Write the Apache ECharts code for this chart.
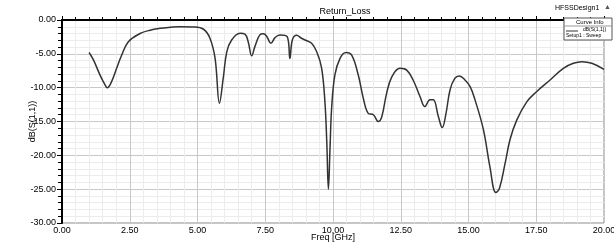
<!DOCTYPE html>
<html>
<head>
<meta charset="utf-8">
<script src="https://cdn.jsdelivr.net/npm/echarts@6/dist/echarts.min.js"></script>
<style>
  html, body { margin: 0; padding: 0; background: #fff; }
  #main { width: 614px; height: 245px; }
</style>
</head>
<body>
<div id="main"></div>
<script>
// Return_Loss, dB(S(1,1)) vs Freq [GHz]
const freq = [1.00, 1.16, 1.40, 1.59, 1.67, 1.83, 2.02, 2.20, 2.45, 2.88, 3.25, 3.62, 3.99, 4.35, 4.85,
  5.21, 5.46, 5.65, 5.81, 5.95, 6.08, 6.26, 6.57, 6.75, 6.87, 7.00, 7.12, 7.30, 7.43, 7.55, 7.71, 7.86,
  8.04, 8.31, 8.41, 8.50, 8.66, 8.84, 8.97, 9.21, 9.40, 9.58, 9.70, 9.77, 9.83, 9.89, 9.95, 10.07,
  10.26, 10.48, 10.69, 10.93, 11.12, 11.30, 11.49, 11.67, 11.80, 11.98, 12.17, 12.47, 12.72, 12.96,
  13.21, 13.39, 13.58, 13.70, 13.89, 14.03, 14.17, 14.32, 14.50, 14.66, 14.87, 15.06, 15.24, 15.55,
  15.79, 16.01, 16.14, 16.35, 16.53, 16.78, 17.15, 17.51, 18.01, 18.50, 18.87, 19.18, 19.55, 20.00];
const s11 = [-4.8, -5.9, -8.1, -9.6, -10.0, -9.1, -7.1, -5.2, -3.2, -2.0, -1.5, -1.23, -1.08, -0.99, -1.03,
  -1.33, -2.7, -5.7, -12.3, -8.6, -4.7, -2.95, -1.97, -2.1, -3.2, -5.3, -3.9, -2.2, -2.05, -2.4, -3.45, -2.6,
  -2.2, -2.46, -5.7, -2.95, -2.27, -2.7, -2.95, -3.45, -4.7, -7.1, -12.0, -18.0, -25.0, -19.0, -13.0, -8.1,
  -5.66, -4.8, -5.2, -8.1, -11.6, -13.8, -14.0, -15.0, -14.3, -10.8, -8.4, -7.14, -7.4, -8.9,
  -11.3, -12.8, -11.8, -11.8, -14.3, -15.9, -13.8, -10.3, -8.6, -8.27, -8.86, -9.85, -11.8, -16.2,
  -21.7, -25.5, -24.9, -21.2, -17.7, -14.8, -12.1, -10.6, -8.86, -7.14, -6.4, -6.16, -6.4, -7.3];

const curveName = 'dB(S(1,1))';
const setupName = 'Setup1 : Sweep';

const myChart = echarts.init(document.getElementById('main'));

const points = [];
for (let i = 0; i < freq.length; i++) {
  points.push([freq[i], s11[i]]);
}

const font = 'Liberation Sans, Arial, sans-serif';

const option = {
  backgroundColor: '#fff',
  animation: false,
  title: {
    text: 'Return_Loss',
    left: 340,
    top: 2,
    textAlign: 'center',
    textStyle: { fontFamily: font, fontSize: 9, fontWeight: 'normal', color: '#000' }
  },
  grid: {
    left: 62, right: 10, top: 20, bottom: 22,
    outerBoundsMode: 'none',
    containLabel: false,
    show: true,
    borderColor: '#888',
    borderWidth: 1
  },
  xAxis: {
    type: 'value',
    min: 0,
    max: 20,
    interval: 2.5,
    name: 'Freq [GHz]',
    nameLocation: 'middle',
    nameGap: 10,
    nameMoveOverlap: false,
    nameTextStyle: { fontFamily: font, fontSize: 9, color: '#000' },
    axisLine: { show: true, lineStyle: { color: '#000', width: 2 } },
    axisTick: { show: true, inside: true, length: 4, lineStyle: { color: '#000' } },
    minorTick: { show: true, splitNumber: 5, length: 3, lineStyle: { color: '#000' } },
    axisLabel: {
      fontFamily: font, fontSize: 9, color: '#000', margin: 3,
      formatter: v => v.toFixed(2)
    },
    splitLine: { show: true, lineStyle: { color: '#c8c8c8', width: 1 } },
    minorSplitLine: { show: true, lineStyle: { color: '#ececec', width: 1 } }
  },
  yAxis: {
    type: 'value',
    min: -30,
    max: 0,
    interval: 5,
    name: 'dB(S(1,1))',
    nameLocation: 'middle',
    nameGap: 25,
    nameMoveOverlap: false,
    nameTextStyle: { fontFamily: font, fontSize: 9, color: '#000' },
    axisLine: { show: true, lineStyle: { color: '#000', width: 2 } },
    axisTick: { show: true, length: 5, lineStyle: { color: '#000' } },
    minorTick: { show: true, splitNumber: 5, length: 4, lineStyle: { color: '#000' } },
    axisLabel: {
      fontFamily: font, fontSize: 9, color: '#000', margin: 6,
      formatter: v => v.toFixed(2)
    },
    splitLine: { show: true, lineStyle: { color: '#c8c8c8', width: 1 } },
    minorSplitLine: { show: true, lineStyle: { color: '#ececec', width: 1 } }
  },
  series: [
    {
      name: curveName,
      type: 'line',
      data: points,
      smooth: 0.4,
      showSymbol: false,
      lineStyle: { color: '#333', width: 1.5 }
    }
  ],
  graphic: [
    {
      type: 'text', left: 555, top: 5,
      style: { text: 'HFSSDesign1', fontFamily: font, fontSize: 7, fill: '#000' }
    },
    {
      type: 'text', left: 604, top: 4,
      style: { text: '▲', fontFamily: font, fontSize: 7, fill: '#555' }
    },
    {
      type: 'rect',
      shape: { x: 564, y: 18, width: 48, height: 22 },
      style: { fill: '#fff', stroke: '#555', lineWidth: 1 },
      z: 100
    },
    {
      type: 'line',
      shape: { x1: 564, y1: 26, x2: 612, y2: 26 },
      style: { stroke: '#999', lineWidth: 1 },
      z: 101
    },
    {
      type: 'text', left: 576, top: 19, z: 101,
      style: { text: 'Curve Info', fontFamily: font, fontSize: 6, fill: '#000' }
    },
    {
      type: 'line',
      shape: { x1: 566, y1: 31, x2: 578, y2: 31 },
      style: { stroke: '#333', lineWidth: 1 },
      z: 101
    },
    {
      type: 'text', left: 583, top: 27, z: 101,
      style: { text: curveName, fontFamily: font, fontSize: 5, fill: '#000', textDecoration: 'underline' }
    },
    {
      type: 'text', left: 566, top: 33, z: 101,
      style: { text: setupName, fontFamily: font, fontSize: 5, fill: '#000' }
    }
  ]
};

myChart.setOption(option);
</script>
</body>
</html>
